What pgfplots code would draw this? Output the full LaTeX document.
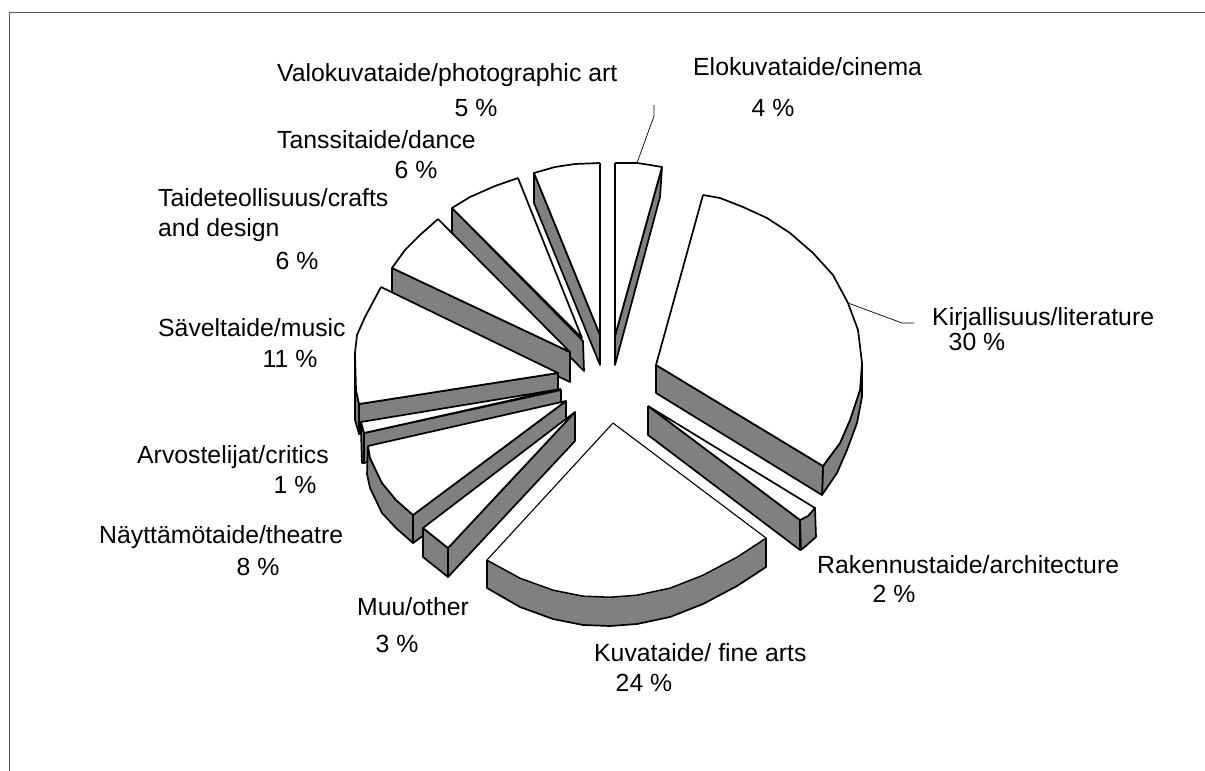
\documentclass[border=0pt]{standalone}
\usepackage{pgfplots}
\pgfplotsset{compat=1.18}
\usepackage{fontspec}
\setmainfont{Liberation Sans}
\definecolor{sidegray}{RGB}{128,128,128}
\pgfplotsset{
  top/.style={fill=white,draw=black,line width=1.7pt,line join=round,no markers},
  side/.style={fill=sidegray,draw=black,line width=1.7pt,line join=round,no markers},
  thin/.style={draw=black,line width=0.7pt,no markers},
}
\tikzset{txt/.style={inner sep=0pt,yshift=-2pt,text height=18pt,text depth=5pt,font=\fontsize{24.8}{29}\selectfont}}
\newcommand{\lab}[3]{\node[txt,anchor=west] at (axis cs:#1,#2) {#3};}
\newcommand{\cen}[3]{\node[txt] at (axis cs:#1,#2) {#3};}
\begin{document}
\begin{tikzpicture}
\begin{axis}[
  width=1205pt,height=771pt,scale only axis,
  xmin=0,xmax=1205,ymin=0,ymax=771,y dir=reverse,
  hide axis,clip=false]
\path[use as bounding box] (axis cs:0,0) rectangle (axis cs:1205,771);
% chart frame
\addplot[draw=black!65,line width=1pt,no markers] coordinates {(9.5,771) (9.5,12) (1205,12)};
% leaders
\addplot[thin] coordinates {(654,105) (654,116) (637,163)};
\addplot[thin] coordinates {(848,303) (902,323) (914,323)};
% Elokuvataide 4 %
\addplot[side] coordinates {(662,167) (660,197) (615,365) (615,336) (662,167)};
\addplot[top] coordinates {(615,163) (637,163) (650,165) (662,167) (615,336) (615,163)};
% Kirjallisuus 30 %
\addplot[side] coordinates {(823,466) (840,443) (850,420) (860,390) (862,363) (862,397) (857,423) (847,450) (837,473) (822,495) (823,466)};
\addplot[side] coordinates {(656,365) (823,466) (822,495) (656,393) (656,365)};
\addplot[top] coordinates {(703,195) (720,198) (743,207) (767,218) (790,233) (813,253) (833,275) (848,303) (858,330) (862,363) (860,390) (850,420) (840,443) (823,466) (656,365) (703,195)};
% Rakennustaide 2 %
\addplot[side] coordinates {(800,520) (808,516) (815,508) (816,537) (808,544) (801,550) (800,520)};
\addplot[side] coordinates {(648,406) (800,520) (800,550) (648,435) (648,406)};
\addplot[top] coordinates {(648,406) (815,508) (808,516) (800,520) (648,406)};
% Kuvataide 24 %
\addplot[side] coordinates {(487,560) (520,578) (553,590) (583,596) (610,597) (637,595) (670,588) (703,575) (737,557) (766,538) (766,567) (737,586) (703,604) (670,617) (637,624) (610,626) (583,625) (553,619) (520,607) (487,588) (487,560)};
\addplot[top,line width=1.1pt] coordinates {(613,423) (766,538) (737,557) (703,575) (670,588) (637,595) (610,597) (583,596) (553,590) (520,578) (487,560) (613,423)};
% Valokuvataide 5 %
\addplot[side] coordinates {(534,173) (600,335) (600,365) (534,203) (534,173)};
\addplot[top] coordinates {(600,163) (575,164) (555,167) (534,173) (600,335) (600,163)};
% Tanssitaide 6 %
\addplot[side] coordinates {(452,208) (583,341) (584,371) (452,238) (452,208)};
\addplot[top] coordinates {(518,178) (495,186) (470,197) (452,208) (582,338) (518,178)};
% Taideteollisuus 6 %
\addplot[side] coordinates {(392,268) (570,352) (570,382) (392,298) (392,268)};
\addplot[top] coordinates {(438,219) (420,235) (405,250) (392,268) (570,352) (438,219)};
% Saveltaide 11 %
\addplot[side] coordinates {(355,353) (356,390) (359,404) (359,434) (355,420) (355,353)};
\addplot[side] coordinates {(359,404) (558,373) (558,403) (359,434) (359,404)};
\addplot[top] coordinates {(381,287) (365,317) (357,335) (355,353) (356,390) (359,404) (558,373) (381,287)};
% Arvostelijat 1 %
\addplot[side] coordinates {(361,422) (364,433) (364,463) (362,463) (361,431) (361,422)};
\addplot[side] coordinates {(364,433) (561,390) (561,420) (364,463) (364,433)};
\addplot[top] coordinates {(561,389) (361,422) (364,433) (561,389)};
% Nayttamotaide 8 %
\addplot[side] coordinates {(368,446) (370,458) (382,483) (396,500) (413,515) (413,543) (396,528) (382,513) (370,488) (367,474) (368,446)};
\addplot[side] coordinates {(413,515) (566,401) (566,431) (413,543) (413,515)};
\addplot[top] coordinates {(566,401) (413,515) (396,500) (382,483) (370,458) (368,446) (566,401)};
% Muu 3 %
\addplot[side] coordinates {(423,528) (448,548) (448,577) (423,557) (423,528)};
\addplot[side] coordinates {(448,548) (575,412) (575,441) (448,577) (448,548)};
\addplot[top] coordinates {(575,412) (448,548) (423,528) (575,412)};
% labels
\lab{277}{73}{Valokuvataide/photographic art}
\cen{476}{108}{5 \%}
\lab{693}{67}{Elokuvataide/cinema}
\cen{773}{108}{4 \%}
\lab{277}{140}{Tanssitaide/dance}
\cen{416}{170}{6 \%}
\lab{158}{198}{Taideteollisuus/crafts}
\lab{158}{228}{and design}
\cen{297}{261}{6 \%}
\lab{158}{328}{Säveltaide/music}
\cen{290}{359}{11 \%}
\lab{932}{317}{Kirjallisuus/literature}
\cen{977}{342}{30 \%}
\lab{137}{455}{Arvostelijat/critics}
\cen{295}{485}{1 \%}
\lab{99}{535}{Näyttämötaide/theatre}
\cen{258}{567}{8 \%}
\lab{357}{607}{Muu/other}
\cen{397}{644}{3 \%}
\lab{594}{653}{Kuvataide/ fine arts}
\cen{644}{683}{24 \%}
\lab{817}{565}{Rakennustaide/architecture}
\cen{894}{594}{2 \%}
\end{axis}
\end{tikzpicture}
\end{document}
